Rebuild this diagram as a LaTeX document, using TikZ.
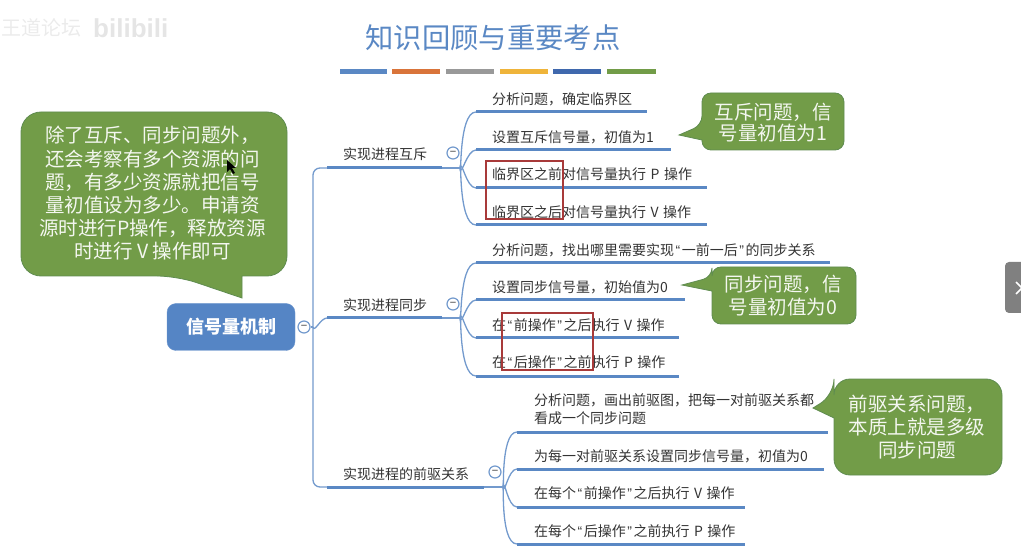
\documentclass[tikz,border=0pt]{standalone}
\usepackage{fontspec}
\usepackage{xcolor}
\setmainfont{Noto Sans CJK SC}
\newfontfamily\latinfont{Liberation Sans}
\definecolor{stemblue}{HTML}{5A88C4}
\definecolor{rootblue}{HTML}{5585C5}
\definecolor{noteGreen}{HTML}{729C48}
\definecolor{noteEdge}{HTML}{5F8C50}
\definecolor{boxred}{HTML}{A83A3A}
\newcommand{\openq}{\kern1.5pt{\latinfont\char"201C}\kern1.5pt}
\newcommand{\closeq}{\kern1.5pt{\latinfont\char"201D}\kern1.5pt}
\newcommand{\wgap}{\hskip4.5pt}
\tikzset{
  stem/.style={line width=3pt, color=stemblue},
  twig/.style={line width=1.3pt, color=stemblue!85},
  itemtext/.style={anchor=west, inner sep=0pt, text=black!80, font=\fontsize{14}{18}\selectfont, align=left},
  foldmark/.style={circle, draw=stemblue!85, line width=1.2pt, fill=white, minimum size=12pt, inner sep=0pt, text=black!50, font=\latinfont\bfseries\fontsize{11}{11}\selectfont},
  notepath/.style={fill=noteGreen, draw=noteEdge, line width=0.8pt},
  notetext/.style={inner sep=0pt, align=center, text=white!92!noteGreen, font=\fontsize{19.5}{23.2}\selectfont},
  redbox/.style={draw=boxred, line width=1.1pt},
  bar/.style={line width=5pt}
}
\begin{document}
\begin{tikzpicture}[x=1pt,y=-1pt]
\useasboundingbox (0,0) rectangle (1021,556);
\node[text=black!8, anchor=west, inner sep=0pt, font=\fontsize{20}{20}\selectfont] (mark1) at (1,28) {王道论坛};
\node[text=black!10, anchor=west, inner sep=0pt, font=\latinfont\bfseries\fontsize{26}{26}\selectfont] (mark2) at (93,28) {bilibili};
\node[text=stemblue, font=\fontsize{28.3}{28.3}\selectfont, inner sep=0pt] (title) at (493,38) {知识回顾与重要考点};
\draw[bar, color=stemblue] (340,72) -- (387,72);
\draw[bar, color={rgb,255:red,217;green,116;blue,58}] (392,72) -- (440,72);
\draw[bar, color=black!40] (446,72) -- (494,72);
\draw[bar, color={rgb,255:red,239;green,180;blue,58}] (500,72) -- (548,72);
\draw[bar, color={rgb,255:red,63;green,104;blue,173}] (553,72) -- (601,72);
\draw[bar, color=noteGreen] (607,72) -- (656,72);
\coordinate (spine) at (313,327);
\coordinate (b1s) at (327,168);
\coordinate (b1e) at (442,168);
\coordinate (b2s) at (327,318);
\coordinate (b2e) at (442,318);
\coordinate (b3s) at (327,487);
\coordinate (b3e) at (484,487);
\coordinate (j1) at (460,168);
\coordinate (j2) at (460,318);
\coordinate (j3) at (503,487);
\coordinate (m1s) at (476,112);
\coordinate (m1e) at (647,112);
\coordinate (m2s) at (476,150);
\coordinate (m2e) at (671,150);
\coordinate (m3s) at (476,188);
\coordinate (m3e) at (707,188);
\coordinate (m4s) at (476,225);
\coordinate (m4e) at (707,225);
\coordinate (s1s) at (476,263);
\coordinate (s1e) at (830,263);
\coordinate (s2s) at (476,300);
\coordinate (s2e) at (685,300);
\coordinate (s3s) at (476,338);
\coordinate (s3e) at (679,338);
\coordinate (s4s) at (476,376);
\coordinate (s4e) at (679,376);
\coordinate (p1s) at (517,432);
\coordinate (p1e) at (828,432);
\coordinate (p2s) at (517,469);
\coordinate (p2e) at (824,469);
\coordinate (p3s) at (517,507);
\coordinate (p3e) at (745,507);
\coordinate (p4s) at (517,544);
\coordinate (p4e) at (745,544);
\draw[twig, rounded corners=7pt] (b1s) -- (b1s -| spine) -- (b3s -| spine) -- (b3s);
\draw[twig] (spine) to[out=-80,in=180] (b2s);
\draw[twig] (b1e) -- (j1);
\draw[twig] (b2e) -- (j2);
\draw[twig] (b3e) -- (j3);
\draw[twig] (j1) to[out=-85,in=180,looseness=0.8] (m1s);
\draw[twig] (j1) to[out=-80,in=180] (m2s);
\draw[twig] (j1) to[out=80,in=180] (m3s);
\draw[twig] (j1) to[out=85,in=180,looseness=0.8] (m4s);
\draw[twig] (j2) to[out=-85,in=180,looseness=0.8] (s1s);
\draw[twig] (j2) to[out=-80,in=180] (s2s);
\draw[twig] (j2) to[out=80,in=180] (s3s);
\draw[twig] (j2) to[out=85,in=180,looseness=0.8] (s4s);
\draw[twig] (j3) to[out=-85,in=180,looseness=0.8] (p1s);
\draw[twig] (j3) to[out=-80,in=180] (p2s);
\draw[twig] (j3) to[out=80,in=180] (p3s);
\draw[twig] (j3) to[out=85,in=180,looseness=0.8] (p4s);
\draw[stem] (b1s) -- (b1e);
\draw[stem] (b2s) -- (b2e);
\draw[stem] (b3s) -- (b3e);
\draw[stem] (m1s) -- (m1e);
\draw[stem] (m2s) -- (m2e);
\draw[stem] (m3s) -- (m3e);
\draw[stem] (m4s) -- (m4e);
\draw[stem] (s1s) -- (s1e);
\draw[stem] (s2s) -- (s2e);
\draw[stem] (s3s) -- (s3e);
\draw[stem] (s4s) -- (s4e);
\draw[stem] (p1s) -- (p1e);
\draw[stem] (p2s) -- (p2e);
\draw[stem] (p3s) -- (p3e);
\draw[stem] (p4s) -- (p4e);
\node[fill=rootblue, draw=rootblue!85!white, rounded corners=9pt, minimum width=128pt, minimum height=47pt, text=white, font=\bfseries\fontsize{18}{18}\selectfont, inner sep=0pt] (root) at (231,327) {信号量机制};
\node[foldmark] (rootfold) at (304,327) {−};
\draw[twig] (rootfold) -- (spine);
\node[foldmark] (mutexfold) at (453,153) {−};
\node[foldmark] (syncfold) at (453,304) {−};
\node[foldmark] (prefold) at (495,472) {−};
\node[itemtext] (mutex) at (343,154) {实现进程互斥};
\node[itemtext] (sync) at (343,305) {实现进程同步};
\node[itemtext] (pre) at (343,474) {实现进程的前驱关系};
\node[itemtext] (m1) at (492,99) {分析问题，确定临界区};
\node[itemtext] (m2) at (492,137) {设置互斥信号量，初值为1};
\node[itemtext] (m3) at (492,174) {临界区之前对信号量执行\wgap P\wgap 操作};
\node[itemtext] (m4) at (492,212) {临界区之后对信号量执行\wgap V\wgap 操作};
\node[itemtext] (s1) at (492,250) {分析问题，找出哪里需要实现\openq 一前一后\closeq 的同步关系};
\node[itemtext] (s2) at (492,287) {设置同步信号量，初始值为0};
\node[itemtext] (s3) at (492,325) {在\openq 前操作\closeq 之后执行\wgap V\wgap 操作};
\node[itemtext] (s4) at (492,362) {在\openq 后操作\closeq 之前执行\wgap P\wgap 操作};
\node[itemtext] (p1) at (534,409) {分析问题，画出前驱图，把每一对前驱关系都\\看成一个同步问题};
\node[itemtext] (p2) at (534,456) {为每一对前驱关系设置同步信号量，初值为0};
\node[itemtext] (p3) at (534,493) {在每个\openq 前操作\closeq 之后执行\wgap V\wgap 操作};
\node[itemtext] (p4) at (534,531) {在每个\openq 后操作\closeq 之前执行\wgap P\wgap 操作};
\draw[redbox] (486,161) rectangle (563,219);
\draw[redbox] (502,313) rectangle (593,370);
\draw[notepath] (242,298) -- (242,276) [rounded corners=20pt] -- (287,276) -- (287,112) -- (21,112) -- (21,276) -- (177,276) [sharp corners] -- cycle;
\node[notetext] (note0) at (152.5,193.5) {除了互斥、同步问题外，\\还会考察有多个资源的问\\题，有多少资源就把信号\\量初值设为多少。申请资\\源时进行P操作，释放资源\\时进行 V 操作即可};
\draw[notepath] (679,135) -- (702,140) [rounded corners=9pt] -- (702,150) -- (844,150) -- (844,93) -- (702,93) -- (702,125) [sharp corners] -- cycle;
\node[notetext, font=\fontsize{19.5}{21.5}\selectfont] (note1) at (773,122.5) {互斥问题，信\\号量初值为1};
\draw[notepath] (682,285) -- (712,291) [rounded corners=9pt] -- (712,324) -- (856,324) -- (856,267) -- (712,267) -- (712,277) [sharp corners] -- cycle;
\node[notetext, font=\fontsize{19.5}{22.5}\selectfont] (note2) at (783,295.5) {同步问题，信\\号量初值为0};
\draw[notepath] (813,408) -- (834,418) [rounded corners=16pt] -- (834,475) -- (1002,475) -- (1002,379) -- (834,379) -- (834,395) [sharp corners] -- cycle;
\node[notetext] (note3) at (917,427) {前驱关系问题，\\本质上就是多级\\同步问题};
\fill[black!50, rounded corners=4pt] (1005,262) rectangle (1030,313);
\draw[white, line width=1.5pt] (1016,282) -- (1022,288) -- (1016,294);
\fill[black] (227,160) -- (227,172) -- (230,169) -- (233,174) -- (235,173) -- (232,168) -- (236,168) -- cycle;
\end{tikzpicture}
\end{document}
